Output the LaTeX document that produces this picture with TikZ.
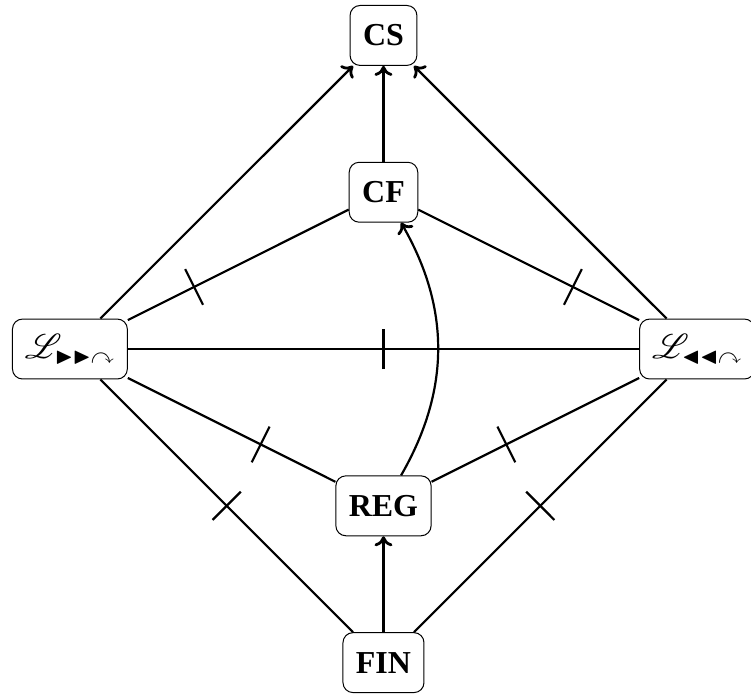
\documentclass[tikz,border=0pt]{standalone}
\usepackage{amssymb}
\usepackage{mathrsfs}
\usepackage{fontspec}
\setmainfont{Liberation Serif}
\usetikzlibrary{arrows.meta,decorations.markings}

\begin{document}
\begin{tikzpicture}[>={Computer Modern Rightarrow[length=5pt,width=9pt,line width=1.4pt]},
		box/.style={draw,rounded corners=5pt,line width=0.5pt,minimum height=30pt,inner xsep=6.5pt,font=\fontsize{16}{19}\selectfont\bfseries},
		lang/.style={box,minimum width=57.5pt,inner xsep=4pt,font=\fontsize{16.5}{19}\selectfont},
		link/.style={line width=1.1pt},
		cut/.style={postaction={decorate},
			decoration={markings, mark=at position #1 with {\draw[line width=1.1pt] (0,-10pt) -- (0,10pt);}}},
		cut/.default=0.5]
		
		\def\unit{78.5pt}
		
		% --- classes, a diamond ---
		\node[box] (CS)  at (0,2*\unit)  {CS};
		\node[box] (CF)  at (0,\unit)    {CF};
		\node[box] (REG) at (0,-\unit)   {REG};
		\node[box] (FIN) at (0,-2*\unit) {FIN};
		\node[lang] (Lw) at (-2*\unit,0) {$\mathscr{L}_{\blacktriangleright\blacktriangleright\curvearrowright}$};
		\node[lang] (Le) at (2*\unit,0)  {$\mathscr{L}_{\blacktriangleleft\blacktriangleleft\curvearrowright}$};
		
		% inclusions
		\foreach \a/\b in {Lw/CS, Le/CS, CF/CS, FIN/REG}
			\draw[link,->] (\a) -- (\b);
		\draw[link,->] (REG) to[bend right] (CF);
		
		% incomparable pairs (ticked)
		\foreach \a/\b/\p in {Lw/CF/0.3, Le/CF/0.3, Lw/REG/0.64, Le/REG/0.64, Lw/FIN/0.5, Le/FIN/0.5}
			\draw[link,cut=\p] (\a) -- (\b);
		\draw[link,cut] (Lw) -- (Le);
		
		% frame: right box cut a little
		\path (Lw.west |- CS.north) ++(-6pt,2.5pt) coordinate (tl);
		\path (Le.east |- FIN.south) ++(-2pt,-1pt) coordinate (br);
		\pgfresetboundingbox
		\useasboundingbox (tl) rectangle (br);
		
	\end{tikzpicture}
\end{document}
